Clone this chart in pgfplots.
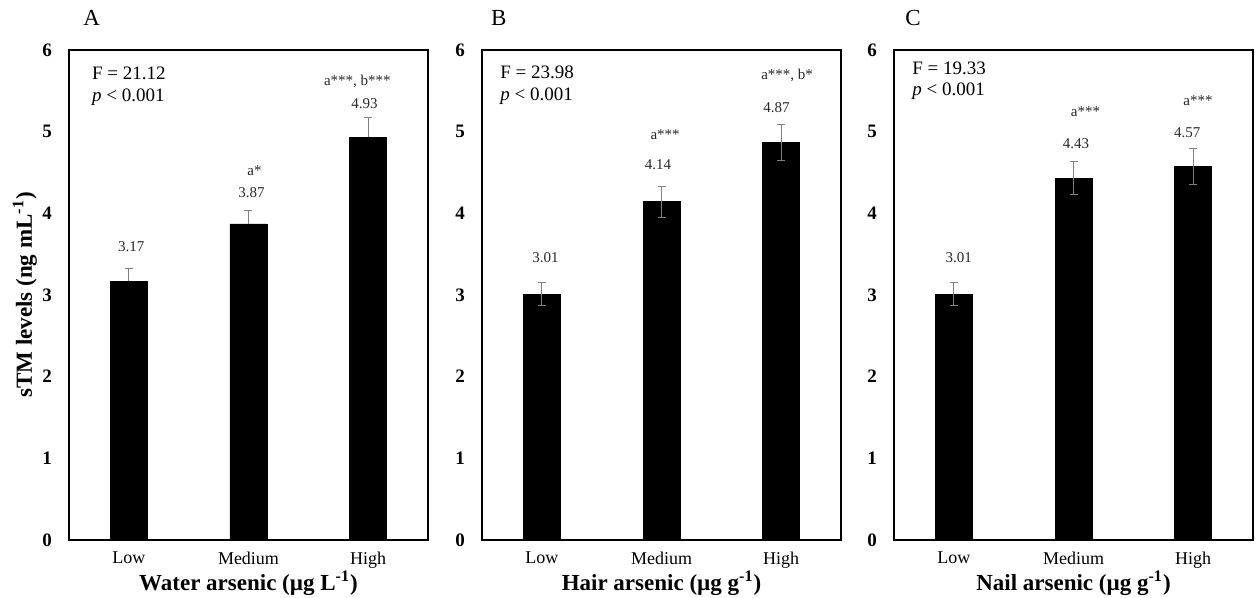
\documentclass[border=0pt]{standalone}
\usepackage{fontspec}
\setmainfont{Liberation Serif}
\usepackage{pgfplots}
\pgfplotsset{compat=1.18}
\definecolor{errgray}{RGB}{128,128,128}
\definecolor{anngray}{RGB}{40,40,40}

\pgfplotsset{
 panel/.style={
  scale only axis, width=179.5pt, height=245pt,
  xmin=-0.5, xmax=2.5, ymin=0, ymax=6,
  ytick={0,1,2,3,4,5,6}, xtick={0,1,2}, xticklabels={Low,Medium,High},
  major tick length=0pt,
  axis line style={line width=0.6pt},
  /pgf/number format/assume math mode=true,
  yticklabel style={font=\fontsize{9.5}{11}\selectfont\bfseries, xshift=-5pt},
  xticklabel style={font=\fontsize{9}{11}\selectfont, yshift=-2.5pt},
  xlabel style={font=\fontsize{11.5}{13}\selectfont\bfseries, at={(axis description cs:0.5,-0.088)}, anchor=center},
  clip=false,
  anchor=south west,
 },
 barstyle/.style={ybar, bar width=18.5pt, fill=black, draw=black, bar shift=0pt,
   error bars/.cd, y dir=#1, y explicit,
   error bar style={errgray, line width=0.5pt},
   error mark options={errgray, rotate=90, mark size=2pt, line width=0.5pt}},
}
\tikzset{
 ann/.style={font=\fontsize{7.5}{9}\selectfont, text=anngray, inner sep=0pt},
 ftext/.style={font=\fontsize{9.5}{11}\selectfont, anchor=west, inner sep=0pt},
 letter/.style={font=\fontsize{11.5}{13}\selectfont, inner sep=0pt},
}

\begin{document}
\begin{tikzpicture}
\useasboundingbox (0,0) rectangle (629.5pt,299pt);

% Panel A
\begin{axis}[panel, at={(34.5pt,29pt)},
  xlabel={Water arsenic (µg L\textsuperscript{-1})},
  ylabel={sTM levels (ng mL\textsuperscript{-1})},
  ylabel style={font=\fontsize{11.5}{13}\selectfont\bfseries, at={(axis description cs:-0.123,0.5)}, anchor=center}]
\addplot[barstyle=plus] coordinates {(0,3.17) +- (0,0.16) (1,3.87) +- (0,0.17) (2,4.93) +- (0,0.24)};
\node[ann] at (axis cs:0.02,3.59) {3.17};
\node[ann] at (axis cs:1.05,4.52) {a*};
\node[ann] at (axis cs:1.025,4.25) {3.87};
\node[ann] at (axis cs:1.91,5.61) {a***, b***};
\node[ann] at (axis cs:1.97,5.34) {4.93};
\node[ftext] at (axis cs:-0.31,5.72) {F = 21.12};
\node[ftext] at (axis cs:-0.31,5.42) {\textit{p} < 0.001};
\node[letter] at (axis cs:-0.31,6.39) {A};
\end{axis}

% Panel B
\begin{axis}[panel, at={(241pt,29pt)},
  xlabel={Hair arsenic (µg g\textsuperscript{-1})}]
\addplot[barstyle=both] coordinates {(0,3.01) +- (0,0.14) (1,4.14) +- (0,0.19) (2,4.87) +- (0,0.22)};
\node[ann] at (axis cs:0.03,3.46) {3.01};
\node[ann] at (axis cs:1.03,4.96) {a***};
\node[ann] at (axis cs:0.97,4.60) {4.14};
\node[ann] at (axis cs:2.05,5.69) {a***, b*};
\node[ann] at (axis cs:1.96,5.29) {4.87};
\node[ftext] at (axis cs:-0.35,5.73) {F = 23.98};
\node[ftext] at (axis cs:-0.35,5.44) {\textit{p} < 0.001};
\node[letter] at (axis cs:-0.36,6.39) {B};
\end{axis}

% Panel C
\begin{axis}[panel, at={(447pt,29pt)},
  xlabel={Nail arsenic (µg g\textsuperscript{-1})}]
\addplot[barstyle=both] coordinates {(0,3.01) +- (0,0.14) (1,4.43) +- (0,0.20) (2,4.57) +- (0,0.22)};
\node[ann] at (axis cs:0.04,3.46) {3.01};
\node[ann] at (axis cs:1.10,5.24) {a***};
\node[ann] at (axis cs:1.02,4.85) {4.43};
\node[ann] at (axis cs:2.04,5.38) {a***};
\node[ann] at (axis cs:1.95,4.99) {4.57};
\node[ftext] at (axis cs:-0.35,5.78) {F = 19.33};
\node[ftext] at (axis cs:-0.35,5.49) {\textit{p} < 0.001};
\node[letter] at (axis cs:-0.34,6.39) {C};
\end{axis}
\end{tikzpicture}
\end{document}
